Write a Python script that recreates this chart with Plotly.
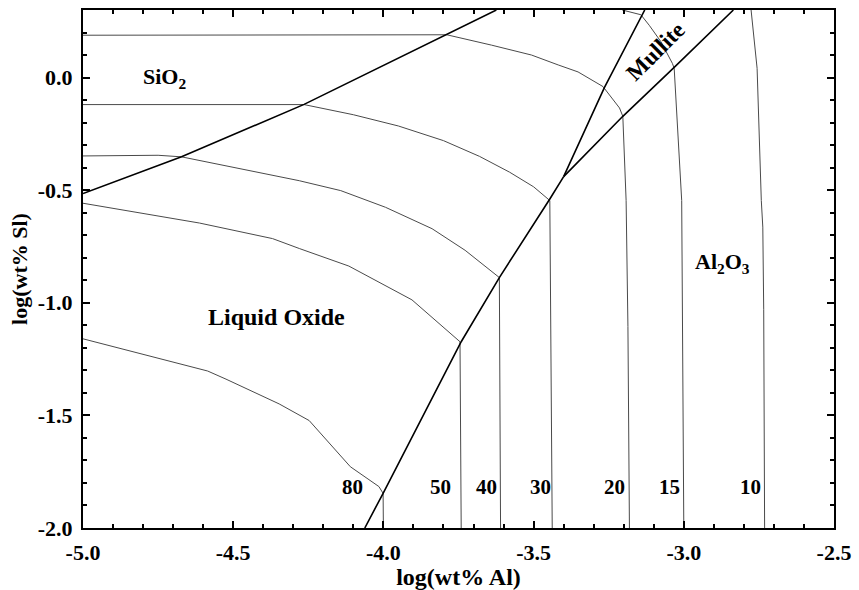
import plotly.graph_objects as go

# ---- phase boundaries (log wt% Al, log wt% Si) ----
bnd_sio2_x = [-5.0, -4.672, -4.264, -3.79, -3.624]
bnd_sio2_y = [-0.515, -0.352, -0.119, 0.19, 0.30]

bnd_liq_al2o3_x = [-4.062, -4.001, -3.741, -3.614, -3.446, -3.40]
bnd_liq_al2o3_y = [-2.0, -1.846, -1.173, -0.888, -0.539, -0.44]

bnd_liq_mull_x = [-3.40, -3.264, -3.13]
bnd_liq_mull_y = [-0.44, -0.044, 0.30]

bnd_mull_al2o3_x = [-3.40, -3.203, -3.032, -2.835]
bnd_mull_al2o3_y = [-0.44, -0.172, 0.045, 0.30]

# ---- iso-lines ----
iso80_x = [-5.0, -4.585, -4.524, -4.347, -4.247, -4.187, -4.11, -4.015, -4.001, -4.0]
iso80_y = [-1.16, -1.303, -1.339, -1.449, -1.523, -1.611, -1.728, -1.816, -1.846, -2.0]

iso50_x = [-5.0, -4.612, -4.369, -4.28, -4.115, -3.905, -3.745, -3.741]
iso50_y = [-0.558, -0.646, -0.715, -0.759, -0.837, -0.987, -1.173, -2.0]

iso40_x = [-5.0, -4.75, -4.672, -4.28, -4.142, -3.993, -3.838, -3.728, -3.614, -3.610]
iso40_y = [-0.348, -0.345, -0.352, -0.458, -0.502, -0.576, -0.671, -0.767, -0.888, -2.0]

iso30_x = [-5.0, -4.264, -4.10, -3.95, -3.80, -3.68, -3.58, -3.50, -3.446, -3.438]
iso30_y = [-0.12, -0.12, -0.165, -0.215, -0.28, -0.35, -0.42, -0.485, -0.546, -2.0]

iso20_x = [-5.0, -3.789, -3.64, -3.507, -3.418, -3.352, -3.269, -3.214, -3.203, -3.192, -3.186, -3.181]
iso20_y = [0.188, 0.19, 0.144, 0.10, 0.056, 0.025, -0.040, -0.135, -0.172, -0.546, -1.105, -2.0]

iso15_x = [-3.205, -3.143, -3.115, -3.076, -3.038, -3.032, -3.007, -3.0]
iso15_y = [0.30, 0.279, 0.232, 0.159, 0.063, 0.041, -0.546, -2.0]

iso10_x = [-2.776, -2.756, -2.742, -2.737, -2.734, -2.731]
iso10_y = [0.30, 0.041, -0.546, -0.664, -1.031, -2.0]

iso_labels = ["80", "50", "40", "30", "20", "15", "10"]
iso_label_x = [-4.103, -3.809, -3.656, -3.477, -3.231, -3.049, -2.778]
iso_label_y = [-1.82] * 7

region_labels = ["SiO<sub>2</sub>", "Liquid Oxide", "Al<sub>2</sub>O<sub>3</sub>", "Mullite"]
region_x = [-4.728, -4.357, -2.871, -3.094]
region_y = [0.0, -1.062, -0.824, 0.115]
region_angle = [0, 0, 0, -45]
region_size = [22, 24, 22, 23]

x_tickvals = [-5.0, -4.5, -4.0, -3.5, -3.0, -2.5]
x_ticktext = ["-5.0", "-4.5", "-4.0", "-3.5", "-3.0", "-2.5"]
y_tickvals = [-2.0, -1.5, -1.0, -0.5, 0.0]
y_ticktext = ["-2.0", "-1.5", "-1.0", "-0.5", "0.0"]

FONT = "Liberation Serif, Times New Roman, serif"

fig = go.Figure()

for xs, ys in [(iso80_x, iso80_y), (iso50_x, iso50_y), (iso40_x, iso40_y),
               (iso30_x, iso30_y), (iso20_x, iso20_y), (iso15_x, iso15_y),
               (iso10_x, iso10_y)]:
    fig.add_trace(go.Scatter(x=xs, y=ys, mode="lines",
                             line=dict(color="#4a4a4a", width=1),
                             hoverinfo="skip", showlegend=False))

for xs, ys in [(bnd_sio2_x, bnd_sio2_y), (bnd_liq_al2o3_x, bnd_liq_al2o3_y),
               (bnd_liq_mull_x, bnd_liq_mull_y), (bnd_mull_al2o3_x, bnd_mull_al2o3_y)]:
    fig.add_trace(go.Scatter(x=xs, y=ys, mode="lines",
                             line=dict(color="black", width=1.6),
                             hoverinfo="skip", showlegend=False))

for t, x, y in zip(iso_labels, iso_label_x, iso_label_y):
    fig.add_annotation(x=x, y=y, text=t, showarrow=False,
                       font=dict(family=FONT, size=21, color="black", weight="bold"))

for t, x, y, a, s in zip(region_labels, region_x, region_y, region_angle, region_size):
    fig.add_annotation(x=x, y=y, text=t, showarrow=False, textangle=a,
                       font=dict(family=FONT, size=s, color="black", weight="bold"))

axis_common = dict(
    showline=True, linecolor="black", linewidth=2, mirror="ticks",
    ticks="inside", ticklen=7, tickwidth=1.5, tickcolor="black",
    showgrid=False, zeroline=False,
    tickfont=dict(family=FONT, size=22, color="black", weight="bold"),
)

fig.update_xaxes(range=[-5.0, -2.5], tickvals=x_tickvals, ticktext=x_ticktext,
                 minor=dict(dtick=0.1, ticks="inside", ticklen=4, tickwidth=1.5,
                            tickcolor="black", showgrid=False),
                 ticklabelstandoff=4,
                 title=dict(text="log(wt% Al)", standoff=0,
                            font=dict(family=FONT, size=24, color="black", weight="bold")),
                 **axis_common)
fig.update_yaxes(range=[-2.0, 0.3], tickvals=y_tickvals, ticktext=y_ticktext,
                 minor=dict(dtick=0.1, ticks="inside", ticklen=4, tickwidth=1.5,
                            tickcolor="black", showgrid=False),
                 ticklabelstandoff=4,
                 title=dict(text="log(wt% Sl)", standoff=4,
                            font=dict(family=FONT, size=22, color="black", weight="bold")),
                 **axis_common)

fig.update_layout(width=859, height=590,
                  margin=dict(l=83, r=22, t=8, b=60),
                  plot_bgcolor="white", paper_bgcolor="white")

fig.write_html("out.html")
